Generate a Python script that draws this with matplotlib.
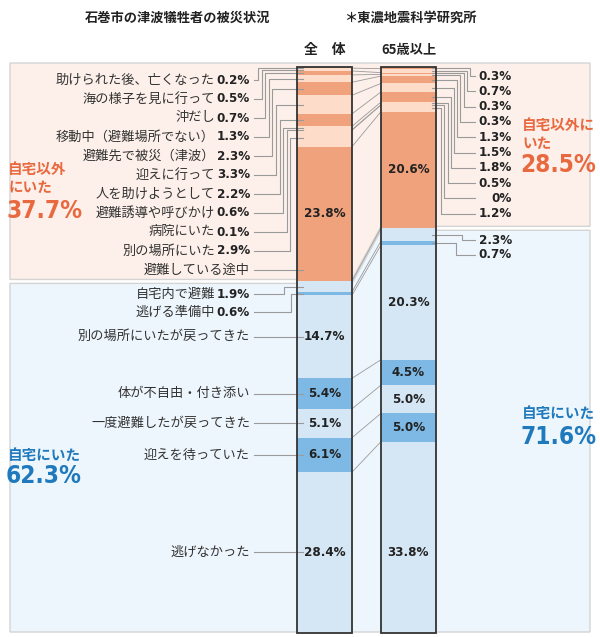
import numpy as np
import matplotlib.pyplot as plt
from matplotlib.patches import Polygon

plt.rcParams['font.family'] = ['Noto Sans CJK JP', 'DejaVu Sans']

# 自宅以外にいた (orange part), same order for both bars
out_labels = ["助けられた後、亡くなった", "海の様子を見に行って", "沖だし",
              "移動中（避難場所でない）", "避難先で被災（津波）", "迎えに行って",
              "人を助けようとして", "避難誘導や呼びかけ", "病院にいた",
              "別の場所にいた", "避難している途中"]
out_all = [0.2, 0.5, 0.7, 1.3, 2.3, 3.3, 2.2, 0.6, 0.1, 2.9, 23.8]
out_65 = [0.3, 0.7, 0.3, 0.3, 1.3, 1.5, 1.8, 0.5, 0.0, 1.2, 20.6]

# 自宅にいた (blue part)
home_labels = ["自宅内で避難", "逃げる準備中", "別の場所にいたが戻ってきた",
               "体が不自由・付き添い", "一度避難したが戻ってきた",
               "迎えを待っていた", "逃げなかった"]
home_all = [1.9, 0.6, 14.7, 5.4, 5.1, 6.1, 28.4]
home_65 = [2.3, 0.7, 20.3, 4.5, 5.0, 5.0, 33.8]

group_names = ["全　体", "65歳以上"]
totals_all = [37.7, 62.3]
totals_65 = [28.5, 71.6]

# colours
C_OUT_D = "#F0A27C"
C_OUT_L = "#FDDCCA"
C_HOME_L = "#D5E6F5"
C_HOME_D = "#7DB9E4"
C_OUT_BG = "#FDF0EA"
C_HOME_BG = "#EEF6FD"
C_OUT_TXT = "#E8693F"
C_HOME_TXT = "#1F79BD"
C_LINE = "#9a9a9a"

# layout: x in pixels, y in percent of bar height
TOP_PX = 67
PX_PER = 5.65
def yp(px):
    return (px - TOP_PX) / PX_PER

XL0, XL1 = 297, 352     # left bar
XR0, XR1 = 381, 436     # right bar

fig = plt.figure(figsize=(6, 6.37), dpi=100)
ax = fig.add_axes([0, 0, 1, 1])
ax.set_xlim(0, 600)
ax.set_ylim(yp(637), yp(0))
ax.axis("off")

vals_all = out_all + home_all
vals_65 = out_65 + home_65
n_out = len(out_all)
cols = [C_OUT_D if i % 2 == 0 else C_OUT_L for i in range(n_out)] + \
       [C_HOME_L if i % 2 == 0 else C_HOME_D for i in range(len(home_all))]
cum_all = np.concatenate([[0], np.cumsum(vals_all)])
cum_65 = np.concatenate([[0], np.cumsum(vals_65)])
b_all = cum_all[n_out]
b_65 = cum_65[n_out]

# background panels
orange = Polygon([(10, yp(63)), (590, yp(63)), (590, b_65 - 0.3), (XR0, b_65 - 0.3),
                  (XL1, b_all - 0.3), (10, b_all - 0.3)],
                 closed=True, fc=C_OUT_BG, ec="#d4d4d4", lw=1, zorder=0)
blue = Polygon([(10, b_all + 0.4), (XL1, b_all + 0.4), (XR0, b_65 + 0.4),
                (590, b_65 + 0.4), (590, yp(632)), (10, yp(632))],
               closed=True, fc=C_HOME_BG, ec="#d4d4d4", lw=1, zorder=0)
ax.add_patch(orange)
ax.add_patch(blue)

# bars
wl = XL1 - XL0
wr = XR1 - XR0
ax.bar((XL0 + XL1) / 2, vals_all, bottom=cum_all[:-1], width=wl, color=cols, lw=0, zorder=2)
ax.bar((XR0 + XR1) / 2, vals_65, bottom=cum_65[:-1], width=wr, color=cols, lw=0, zorder=2)
ax.bar((XL0 + XL1) / 2, cum_all[-1], width=wl, fill=False, ec="#333333", lw=1.3, zorder=4)
ax.bar((XR0 + XR1) / 2, cum_65[-1], width=wr, fill=False, ec="#333333", lw=1.3, zorder=4)

# connecting lines between the bars
for i in range(1, len(cum_all) - 1):
    ax.plot([XL1, XR0], [cum_all[i], cum_65[i]], color=C_LINE, lw=0.6, zorder=1)

# headers and title
ax.text((XL0 + XL1) / 2, yp(50), group_names[0], ha="center", va="center",
        fontsize=10, fontweight="bold", color="#222222")
ax.text((XR0 + XR1) / 2, yp(50), group_names[1], ha="center", va="center",
        fontsize=9.5, fontweight="bold", color="#222222")
ax.text(178, yp(18), "石巻市の津波犠牲者の被災状況", ha="center", va="center",
        fontsize=9.5, fontweight="bold", color="#222222")
ax.text(410, yp(18), "＊東濃地震科学研究所", ha="center", va="center",
        fontsize=9.5, fontweight="bold", color="#222222")

lab_kw = dict(fontsize=9.5, color="#333333", va="center")
pct_kw = dict(fontsize=9.5, color="#222222", va="center", fontweight="bold",
              family="DejaVu Sans", fontstretch="condensed")
line_kw = dict(color=C_LINE, lw=0.8, zorder=3)

# left labels, orange part
for k, lab in enumerate(out_labels):
    ly = yp(80 + 19 * k)
    seg = (cum_all[k] + cum_all[k + 1]) / 2
    if k < n_out - 1:
        ax.text(250, ly, f"{out_all[k]}%", ha="right", **pct_kw)
        ax.text(215, ly, lab, ha="right", **lab_kw)
        xk = 258 + 3.6 * k
        ax.plot([254, xk, xk, XL0 + 6], [ly, ly, seg, seg], **line_kw)
    else:
        ax.text(250, ly, lab, ha="right", **lab_kw)
        ax.plot([254, XL0 + 6], [ly, ly], **line_kw)
        ax.text((XL0 + XL1) / 2, seg, f"{out_all[k]}%", ha="center", **pct_kw)

# left labels, blue part
home_ly = [yp(294), yp(312)]
for k, lab in enumerate(home_labels):
    seg = (cum_all[n_out + k] + cum_all[n_out + k + 1]) / 2
    if k < 2:
        ly = home_ly[k]
        ax.text(250, ly, f"{home_all[k]}%", ha="right", **pct_kw)
        ax.text(215, ly, lab, ha="right", **lab_kw)
        xk = 284 + 7 * k
        ax.plot([254, xk, xk, XL0 + 6], [ly, ly, seg, seg], **line_kw)
    else:
        ax.text(250, seg, lab, ha="right", **lab_kw)
        ax.plot([254, XL0 + 6], [seg, seg], **line_kw)
        ax.text((XL0 + XL1) / 2, seg, f"{home_all[k]}%", ha="center", **pct_kw)

# right labels, orange part
for k in range(n_out):
    seg = (cum_65[k] + cum_65[k + 1]) / 2
    if k < n_out - 1:
        ly = yp(76 + 15.3 * k)
        txt = "0%" if out_65[k] == 0 else f"{out_65[k]}%"
        ax.text(512, ly, txt, ha="right", **pct_kw)
        xk = 470 - 3.2 * k
        ax.plot([XR1 - 4, xk, xk, 475], [seg, seg, ly, ly], **line_kw)
    else:
        ax.text((XR0 + XR1) / 2, seg, f"{out_65[k]}%", ha="center", **pct_kw)

# right labels, blue part
home_ry = [yp(240), yp(255)]
for k in range(len(home_65)):
    seg = (cum_65[n_out + k] + cum_65[n_out + k + 1]) / 2
    if k < 2:
        ly = home_ry[k]
        ax.text(512, ly, f"{home_65[k]}%", ha="right", **pct_kw)
        xk = 462 - 6 * k
        ax.plot([XR1 - 4, xk, xk, 475], [seg, seg, ly, ly], **line_kw)
    elif k == len(home_65) - 1:
        ax.text((XR0 + XR1) / 2, (cum_all[-2] + cum_all[-1]) / 2, f"{home_65[k]}%",
                ha="center", **pct_kw)
    else:
        ax.text((XR0 + XR1) / 2, seg, f"{home_65[k]}%", ha="center", **pct_kw)

# big group totals
big_kw = dict(ha="left", va="center", fontsize=17.5, fontweight="bold",
              family="DejaVu Sans", fontstretch="condensed")
sub_kw = dict(ha="left", va="center", fontsize=10.5, fontweight="bold", linespacing=1.1)
ax.text(8, yp(178), "自宅以外\nにいた", color=C_OUT_TXT, **sub_kw)
ax.text(6, yp(211), f"{totals_all[0]}%", color=C_OUT_TXT, **big_kw)
ax.text(522, yp(134), "自宅以外に\nいた", color=C_OUT_TXT, **sub_kw)
ax.text(520, yp(165), f"{totals_65[0]}%", color=C_OUT_TXT, **big_kw)
ax.text(8, yp(455), "自宅にいた", color=C_HOME_TXT, **sub_kw)
ax.text(6, yp(476), f"{totals_all[1]}%", color=C_HOME_TXT, **big_kw)
ax.text(522, yp(413), "自宅にいた", color=C_HOME_TXT, **sub_kw)
ax.text(520, yp(437), f"{totals_65[1]}%", color=C_HOME_TXT, **big_kw)

fig.savefig("out.png", dpi=100, facecolor="white")
